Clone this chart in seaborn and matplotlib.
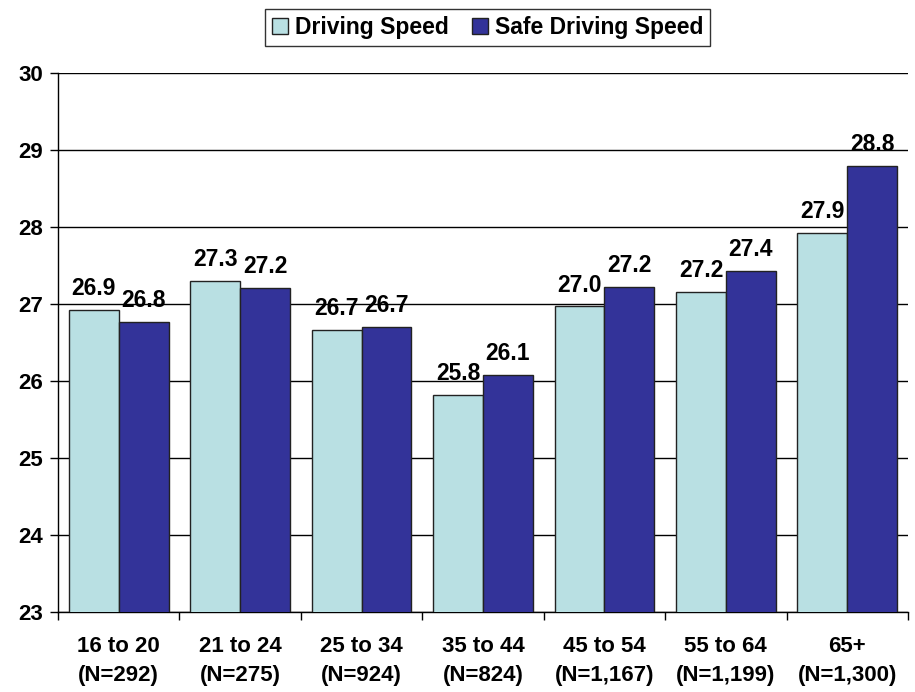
# Driving speed vs safe driving speed by age group
import pandas as pd
import numpy as np
import matplotlib
matplotlib.use("Agg")
import matplotlib.pyplot as plt
import seaborn as sns

# =========================
# DATA
# =========================

age_groups = ["16 to 20", "21 to 24", "25 to 34", "35 to 44",
              "45 to 54", "55 to 64", "65+"]
sample_sizes = ["(N=292)", "(N=275)", "(N=924)", "(N=824)",
                "(N=1,167)", "(N=1,199)", "(N=1,300)"]
driving_speed = [26.92, 27.30, 26.66, 25.82, 26.97, 27.16, 27.92]
safe_driving_speed = [26.77, 27.21, 26.70, 26.08, 27.22, 27.43, 28.79]
series_names = ["Driving Speed", "Safe Driving Speed"]
colors = ["#B9E0E3", "#333399"]

df = pd.DataFrame({
    "Age": age_groups * 2,
    "Series": [series_names[0]] * 7 + [series_names[1]] * 7,
    "Speed": driving_speed + safe_driving_speed,
})

# =========================
# PLOT
# =========================

sns.set_style("white")
plt.rcParams["font.family"] = ["Liberation Sans", "DejaVu Sans"]
plt.rcParams["font.weight"] = "bold"
plt.rcParams["text.color"] = "black"
plt.rcParams["xtick.color"] = "black"
plt.rcParams["ytick.color"] = "black"

fig = plt.figure(figsize=(9.15, 6.92), dpi=100)
ax = fig.add_axes([58 / 915, 80 / 692, 850 / 915, 539 / 692])

sns.barplot(data=df, x="Age", y="Speed", hue="Series", palette=colors,
            saturation=1, width=0.82, edgecolor="#222222", linewidth=1.0,
            ax=ax, legend=False, zorder=3)

ax.set_ylim(23, 30)
ax.set_xlim(-0.5, 6.5)
ax.set_yticks(np.arange(23, 31, 1))
ax.yaxis.grid(True, color="black", linewidth=1.0, zorder=0)
ax.set_axisbelow(True)

for cont in ax.containers:
    ax.bar_label(cont, fmt="%.1f", padding=7, fontsize=16.5,
                 fontweight="bold", color="black")

ax.set_xlabel("")
ax.set_ylabel("")
ax.set_xticks(range(7))
ax.set_xticklabels([a + "\n" + n for a, n in zip(age_groups, sample_sizes)],
                   fontsize=16, fontweight="bold", linespacing=1.55)
ax.set_xticks(np.arange(-0.5, 7, 1), minor=True)
ax.tick_params(axis="x", which="major", length=0, pad=17)
ax.tick_params(axis="x", which="minor", length=6, width=1, direction="out",
               color="black", bottom=True)
ax.tick_params(axis="y", length=6, width=1, direction="out", color="black",
               left=True, labelsize=16, pad=5)
for lab in ax.get_yticklabels():
    lab.set_fontweight("bold")

for side in ["top", "right"]:
    ax.spines[side].set_visible(False)
for side in ["left", "bottom"]:
    ax.spines[side].set_color("black")
    ax.spines[side].set_linewidth(1.0)

handles = [plt.Rectangle((0, 0), 1, 1, facecolor=c, edgecolor="#222222")
           for c in colors]
leg = fig.legend(handles, series_names, loc="upper center",
                 bbox_to_anchor=(0.533, 0.993), ncol=2, frameon=True,
                 fancybox=False, edgecolor="black",
                 prop={"size": 16.5, "weight": "bold"},
                 handlelength=0.7, handleheight=0.7, handletextpad=0.3,
                 columnspacing=1.0, borderpad=0.3, borderaxespad=0.2)
leg.get_frame().set_linewidth(1.0)

fig.savefig("out.png", dpi=100)
plt.close()
